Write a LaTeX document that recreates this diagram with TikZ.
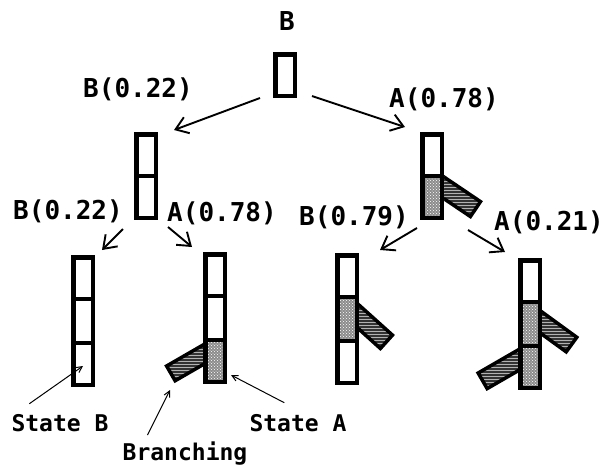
\documentclass[tikz,border=0pt]{standalone}
\usepackage{fontspec}
\setmonofont{DejaVu Sans Mono}
\usetikzlibrary{patterns,arrows.meta,calc}
\pgfdeclarelayer{background}
\pgfsetlayers{background,main}

\tikzset{
  prob/.style={font=\ttfamily\bfseries\fontsize{26}{30}\selectfont, inner sep=0pt, anchor=base},
  note/.style={font=\ttfamily\bfseries\fontsize{23}{28}\selectfont, inner sep=0pt, anchor=base},
  % a stack of state cells; the 4pt frame lies 2pt outside the path
  stackbox/.style={draw, line width=4.5pt, inner sep=0pt, minimum width=19.5pt},
  divider/.style={line width=4pt},
  cellA/.style={fill=black!45, postaction={pattern=crosshatch dots, pattern color=white}},
  cellB/.style={fill=white},
  branchbar/.style={fill=black!80,
    postaction={pattern=horizontal lines, pattern color=white!70!black},
    postaction={draw, line width=3.5pt}},
  tree/.style={line width=1.9pt, -{Straight Barb[length=12pt,width=17pt]}},
  pointer/.style={line width=1pt, -{Straight Barb[length=6pt,width=6pt]}},
}

\begin{document}
\begin{tikzpicture}[x=1pt, y=-1pt]
\useasboundingbox (0,0) rectangle (613,467);

% ---- stacks of cells ----
\node[stackbox, minimum height=41.5pt]  (top) at (285,75)  {};
\node[stackbox, minimum height=83.5pt]  (L1)  at (146,176) {};
\node[stackbox, minimum height=83.5pt]  (R1)  at (432,176) {};
\node[stackbox, minimum height=127.5pt] (LL)  at (83,321)  {};
\node[stackbox, minimum height=127.5pt] (LR)  at (215,318) {};
\node[stackbox, minimum height=127.5pt] (RL)  at (347,319) {};
\node[stackbox, minimum height=127.5pt] (RR)  at (530,324) {};

% cell dividers
\foreach \s/\n in {L1/1, R1/1, LL/2, LR/2, RL/2, RR/2}{
  \foreach \k in {1,...,\n}{
    \draw[divider] ($(\s.north west)+(0,44*\k)$) -- ($(\s.north east)+(0,44*\k)$);
  }
}

\begin{pgfonlayer}{background}
  \fill[white] (0,0) rectangle (613,467);
  % branching bars
  \begin{scope}[shift={(444,177)}, rotate=-34]
    \path[branchbar] (-8,0) rectangle (44,18);
  \end{scope}
  \begin{scope}[shift={(203,345)}, rotate=210]
    \path[branchbar] (-8,0) rectangle (42,-17);
  \end{scope}
  \begin{scope}[shift={(359,305)}, rotate=-42]
    \path[branchbar] (-8,0) rectangle (45,18);
  \end{scope}
  \begin{scope}[shift={(542,312)}, rotate=-36]
    \path[branchbar] (-8,0) rectangle (43,18);
  \end{scope}
  \begin{scope}[shift={(518,350)}, rotate=210]
    \path[branchbar] (-8,0) rectangle (46,-18);
  \end{scope}
  % cell contents
  \fill[cellB] (top.north west) rectangle (top.south east);
  \fill[cellB] (L1.north west) rectangle (L1.south east);
  \fill[cellB] (R1.north west) rectangle ($(R1.north east)+(0,44)$);
  \path[cellA] ($(R1.north west)+(0,44)$) rectangle (R1.south east);
  \fill[cellB] (LL.north west) rectangle (LL.south east);
  \fill[cellB] (LR.north west) rectangle ($(LR.north east)+(0,88)$);
  \path[cellA] ($(LR.north west)+(0,88)$) rectangle (LR.south east);
  \fill[cellB] (RL.north west) rectangle (RL.south east);
  \path[cellA] ($(RL.north west)+(0,44)$) rectangle ($(RL.north east)+(0,88)$);
  \fill[cellB] (RR.north west) rectangle ($(RR.north east)+(0,44)$);
  \path[cellA] ($(RR.north west)+(0,44)$) rectangle (RR.south east);
\end{pgfonlayer}

% ---- labels ----
\node[prob] (tB)  at (287,30)  {B};
\node[prob] (pL1) at (138,97)  {B(0.22)};
\node[prob] (pR1) at (444,107) {A(0.78)};
\node[prob] (pLL) at (68,219)  {B(0.22)};
\node[prob] (pLR) at (222,221) {A(0.78)};
\node[prob] (pRL) at (354,225) {B(0.79)};
\node[prob] (pRR) at (549,230) {A(0.21)};
\node[note] (sB)  at (60,431)  {State B};
\node[note] (br)  at (185,460) {Branching};
\node[note] (sA)  at (298,431) {State A};

% ---- transitions ----
\draw[tree] ($(top.south west)+(-13,0)$) -- ($(L1.north east)+(16,-2)$);
\draw[tree] ($(top.south east)+(15,-2)$) -- ($(R1.north west)+(-15,-5)$);
\draw[tree] ($(L1.south west)+(-11,9)$) -- ($(LL.north east)+(7,-5)$);
\draw[tree] ($(L1.south east)+(10,7)$)  -- ($(LR.north west)+(-11,-5)$);
\draw[tree] ($(R1.south west)+(-3,8)$)  -- ($(RL.north east)+(21,-3)$);
\draw[tree] ($(R1.south east)+(24,10)$) -- ($(RR.north west)+(-13,-6)$);

% ---- callouts ----
\coordinate (tipB)  at (83,366);
\coordinate (tipBr) at (170,390);
\coordinate (tipA)  at (231,375);
\draw[pointer] ($(sB.north west)+(18,-10)$) -- (tipB);
\draw[pointer] ($(br.north west)+(25,-6)$) -- (tipBr);
\draw[pointer] ($(sA.north west)+(35,-11)$) -- (tipA);
\end{tikzpicture}
\end{document}
